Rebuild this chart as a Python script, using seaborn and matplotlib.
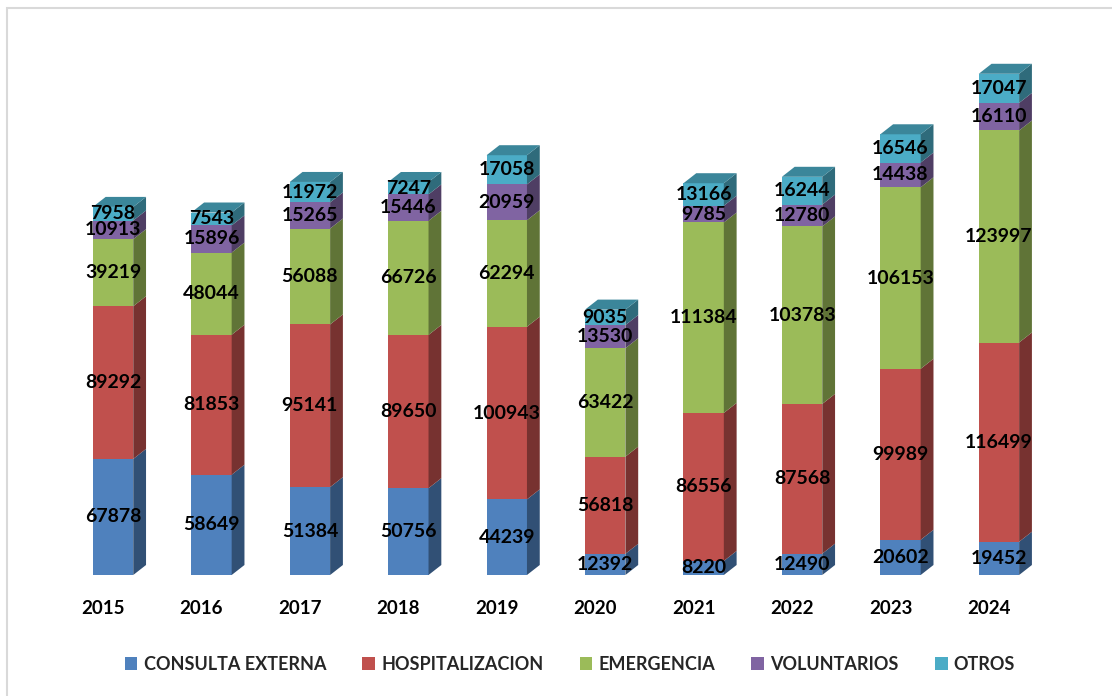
import matplotlib
matplotlib.use("Agg")
import matplotlib.pyplot as plt
import matplotlib.patches as mpatches
import matplotlib.transforms as mtransforms
import matplotlib.colors as mcolors
import numpy as np
import seaborn as sns

# data
years = ["2015", "2016", "2017", "2018", "2019", "2020", "2021", "2022", "2023", "2024"]
consulta = [67878, 58649, 51384, 50756, 44239, 12392, 8220, 12490, 20602, 19452]
hospital = [89292, 81853, 95141, 89650, 100943, 56818, 86556, 87568, 99989, 116499]
emergencia = [39219, 48044, 56088, 66726, 62294, 63422, 111384, 103783, 106153, 123997]
voluntarios = [10913, 15896, 15265, 15446, 20959, 13530, 9785, 12780, 14438, 16110]
otros = [7958, 7543, 11972, 7247, 17058, 9035, 13166, 16244, 16546, 17047]

series_names = ["CONSULTA EXTERNA", "HOSPITALIZACION", "EMERGENCIA", "VOLUNTARIOS", "OTROS"]
series_vals = [consulta, hospital, emergencia, voluntarios, otros]
colors = ["#4F81BD", "#C0504D", "#9BBB59", "#8064A2", "#4BACC6"]

sns.set_style("white")
plt.rcParams["font.family"] = ["Lato", "DejaVu Sans"]

fig = plt.figure(figsize=(11.12, 6.96), dpi=100)
ax = fig.add_axes([54 / 1112, 121 / 696, 1004 / 1112, 513 / 696])

# fake 3d depth (data units)
dx, dy = 0.13, 5850


def shade(c, f):
    r, g, b = mcolors.to_rgb(c)
    return (r * f, g * f, b * f)


bottom = np.zeros(len(years))
for i, (name, vals, col) in enumerate(zip(series_names, series_vals, colors)):
    sns.barplot(x=years, y=vals, bottom=bottom, order=years, color=col,
                saturation=1, width=0.41, linewidth=0, errorbar=None, ax=ax)
    cont = ax.containers[-1]
    for rect, v in zip(cont.patches, vals):
        x0, y0 = rect.get_x(), rect.get_y()
        w, h = rect.get_width(), rect.get_height()
        side = mpatches.Polygon([(x0 + w, y0), (x0 + w + dx, y0 + dy),
                                 (x0 + w + dx, y0 + h + dy), (x0 + w, y0 + h)],
                                closed=True, facecolor=shade(col, 0.62), edgecolor="none", zorder=2)
        ax.add_patch(side)
        if i == len(series_names) - 1:
            top = mpatches.Polygon([(x0, y0 + h), (x0 + dx, y0 + h + dy),
                                    (x0 + w + dx, y0 + h + dy), (x0 + w, y0 + h)],
                                   closed=True, facecolor=shade(col, 0.78), edgecolor="none", zorder=2)
            ax.add_patch(top)
        ax.text(x0 + w / 2, y0 + h / 2, str(v), ha="center", va="center",
                fontsize=14, fontweight="bold", color="black", zorder=5)
    bottom = bottom + np.array(vals)

ax.set_xlim(-0.6, 9.6)
ax.set_ylim(0, 300000)
ax.set_yticks([])
ax.set_xlabel("")
ax.set_ylabel("")
for s in ax.spines.values():
    s.set_visible(False)
ax.tick_params(axis="x", length=0, pad=18)
offset = mtransforms.ScaledTranslation(-10 / 100, 0, fig.dpi_scale_trans)
for lab in ax.get_xticklabels():
    lab.set_fontsize(13.5)
    lab.set_fontweight("bold")
    lab.set_color("black")
    lab.set_transform(lab.get_transform() + offset)

# legend
handles = [mpatches.Patch(facecolor=c, edgecolor="none", label=n) for n, c in zip(series_names, colors)]
leg = fig.legend(handles=handles, loc="center", bbox_to_anchor=(570 / 1112, 1 - 664 / 696),
                 ncol=5, frameon=False, handlelength=0.7, handleheight=0.7,
                 handletextpad=0.35, columnspacing=2.0,
                 prop={"weight": "bold", "size": 13})

# chart border
fig.patches.append(mpatches.Rectangle((7 / 1112, -0.1), 1.2, (696 - 8) / 696 + 0.1,
                                      transform=fig.transFigure, fill=False,
                                      edgecolor="#d9d9d9", linewidth=1.5))

fig.savefig("out.png", dpi=100)
plt.close(fig)
